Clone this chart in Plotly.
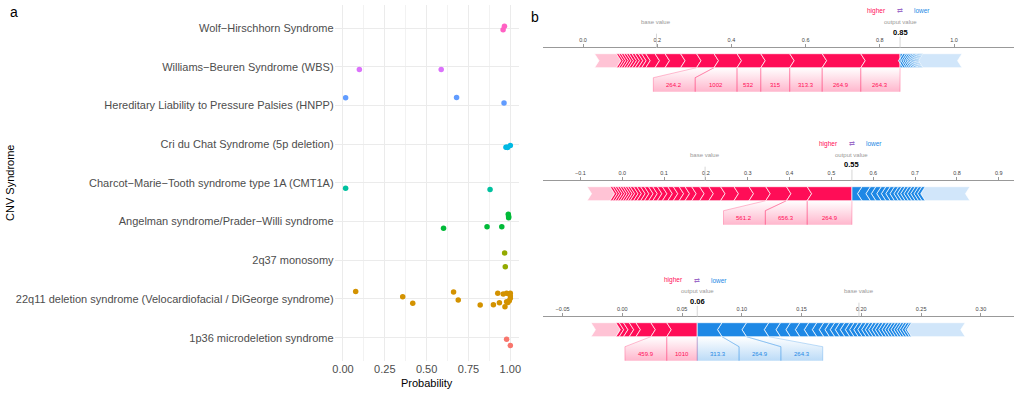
import plotly.graph_objects as go

W, H = 1023, 393
FONT = "Liberation Sans, Arial, sans-serif"

# ---------------- Panel a: data ----------------
SYNDROMES = [
    "1p36 microdeletion syndrome",
    "22q11 deletion syndrome (Velocardiofacial / DiGeorge syndrome)",
    "2q37 monosomy",
    "Angelman syndrome/Prader\u2212Willi syndrome",
    "Charcot\u2212Marie\u2212Tooth syndrome type 1A (CMT1A)",
    "Cri du Chat Syndrome (5p deletion)",
    "Hereditary Liability to Pressure Palsies (HNPP)",
    "Williams\u2212Beuren Syndrome (WBS)",
    "Wolf\u2212Hirschhorn Syndrome",
]
COLORS = ["#F8766D", "#D39200", "#93AA00", "#00BA38", "#00C19F",
          "#00B9E3", "#619CFF", "#DB72FB", "#FF61C3"]

PROB_1P36 = [0.978, 1.0]
JIT_1P36 = [-0.04, -0.20]
PROB_22Q11 = [0.076, 0.357, 0.417, 0.661, 0.689, 0.820, 0.899, 0.925, 0.935,
              0.958, 0.968, 0.978, 0.978, 0.985, 0.994, 0.994, 1.0, 1.0, 1.0]
JIT_22Q11 = [0.19, 0.06, -0.11, 0.18, -0.026, -0.155, -0.147, 0.147, -0.095,
             0.129, -0.20, 0.147, -0.07, -0.09, 0.129, -0.044, 0.078, 0.018, 0.15]
PROB_2Q37 = [0.966, 0.970]
JIT_2Q37 = [0.19, -0.165]
PROB_ANGELMAN = [0.988, 0.990, 0.990, 0.601, 0.861, 0.949]
JIT_ANGELMAN = [0.19, 0.13, 0.10, -0.17, -0.137, -0.137]
PROB_CMT1A = [0.016, 0.879]
JIT_CMT1A = [-0.14, -0.17]
PROB_CRI = [0.974, 0.980, 0.984, 1.0]
JIT_CRI = [-0.078, -0.08, -0.085, -0.034]
PROB_HNPP = [0.016, 0.679, 0.9625]
JIT_HNPP = [0.20, 0.207, 0.06]
PROB_WBS = [0.098, 0.587]
JIT_WBS = [-0.069, -0.069]
PROB_WOLF = [0.957, 0.965]
JIT_WOLF = [-0.043, 0.043]

PROBS = [PROB_1P36, PROB_22Q11, PROB_2Q37, PROB_ANGELMAN, PROB_CMT1A,
         PROB_CRI, PROB_HNPP, PROB_WBS, PROB_WOLF]
JITS = [JIT_1P36, JIT_22Q11, JIT_2Q37, JIT_ANGELMAN, JIT_CMT1A,
        JIT_CRI, JIT_HNPP, JIT_WBS, JIT_WOLF]
PROB_TICKS = [0, 0.25, 0.5, 0.75, 1.0]
PROB_TICKTEXT = ["0.00", "0.25", "0.50", "0.75", "1.00"]

# ---------------- Panel b: SHAP force data ----------------
BASE_VALUE = 0.198

P1_POS_LABELS = ["264.3", "264.9", "313.3", "315", "532", "1002", "264.2"]
P1_POS = [0.106, 0.104, 0.0875, 0.078, 0.064, 0.062, 0.047, 0.043, 0.042, 0.027,
          0.025, 0.011, 0.009, 0.009, 0.008, 0.008, 0.007, 0.007, 0.007, 0.0065, 0.0065]
P1_POS_REST = 0.059
P1_NEG_LABELS = []
P1_NEG = [0.008, 0.0067, 0.0054, 0.0054, 0.0048, 0.0043, 0.004, 0.0038, 0.0035,
          0.0032, 0.0032, 0.003, 0.003, 0.0027]
P1_NEG_REST = 0.106

P2_POS_LABELS = ["264.9", "656.3", "561.2"]
P2_POS = [0.107, 0.0495, 0.0495, 0.040, 0.036, 0.032, 0.028, 0.022, 0.019, 0.016,
          0.014, 0.014, 0.013, 0.013, 0.012, 0.011, 0.010, 0.010, 0.009, 0.009,
          0.008, 0.008, 0.006, 0.006, 0.006, 0.006, 0.006, 0.006, 0.006, 0.006]
P2_POS_REST = 0.055
P2_NEG_LABELS = []
P2_NEG = [0.024, 0.020, 0.013, 0.013, 0.011, 0.0105, 0.010, 0.0095, 0.008, 0.008,
          0.008, 0.008, 0.008, 0.008, 0.008, 0.008]
P2_NEG_REST = 0.107

P3_POS_LABELS = ["1010", "459.9"]
P3_POS = [0.0255, 0.0133, 0.0125, 0.0056, 0.0048, 0.0036, 0.0028]
P3_POS_REST = 0.0208
P3_NEG_LABELS = ["313.3", "264.9", "264.3"]
P3_NEG = [0.0207, 0.0205, 0.0186, 0.0098, 0.0083, 0.0079, 0.0075, 0.0067, 0.0058,
          0.0048, 0.0044, 0.0042, 0.0042, 0.0042, 0.0036, 0.0035, 0.0033, 0.0033,
          0.003, 0.0028, 0.0028, 0.0028, 0.0028, 0.0028, 0.0025, 0.0025, 0.0025,
          0.0025, 0.0023, 0.0023, 0.0023, 0.0023, 0.0017]
P3_NEG_REST = 0.045

# ---------------- style constants ----------------
RED, BLUE = "#FF0D57", "#1E88E5"
LIGHT_RED, LIGHT_BLUE = "#FFC3D5", "#D1E6FA"
A_DOM = [333.9 / W, 518.7 / W]
A_YDOM = [1 - 360.9 / H, 1 - 4.8 / H]
B_DOM = [543.3 / W, 1015.7 / W]
BAR_TOP, BAR_MID, BAR_BOT = 6, 13, 20
BOX_TOP, BOX_BOT, LABEL_Y = 30, 44, 37.5
ARROW_PX = 4.5
WIDE_BOX_PX = 42
CHAR_PX = 6

fig = go.Figure()

# ---------------- Panel a ----------------
for i, (probs, jits) in enumerate(zip(PROBS, JITS)):
    fig.add_trace(go.Scatter(
        x=probs, y=[i + j for j in jits], mode="markers",
        marker=dict(color=COLORS[i], size=5.5, line=dict(width=0)),
        xaxis="x", yaxis="y", showlegend=False, hoverinfo="skip"))

layout = dict(
    width=W, height=H, margin=dict(l=0, r=0, t=0, b=0),
    paper_bgcolor="white", plot_bgcolor="white", showlegend=False,
    font=dict(family=FONT, color="#000"),
    xaxis=dict(domain=A_DOM, range=[-0.05, 1.05], anchor="y",
               tickvals=PROB_TICKS, ticktext=PROB_TICKTEXT,
               tickfont=dict(size=11, color="#4D4D4D"),
               showgrid=True, gridcolor="#EBEBEB", gridwidth=1,
               zeroline=False, showline=False, ticks="",
               minor=dict(tickvals=[0.125, 0.375, 0.625, 0.875], showgrid=True,
                          gridcolor="#F2F2F2", gridwidth=0.6)),
    yaxis=dict(domain=A_YDOM, range=[-0.6, 8.6], anchor="x",
               tickvals=list(range(len(SYNDROMES))), ticktext=SYNDROMES,
               tickfont=dict(size=11, color="#4D4D4D"),
               showgrid=True, gridcolor="#EBEBEB", gridwidth=1,
               zeroline=False, showline=False, ticks=""),
)

shapes = []
annotations = [
    dict(text="a", x=12 / W, y=1 - 12 / H, xref="paper", yref="paper",
         showarrow=False, font=dict(size=14, color="#000"), xanchor="center", yanchor="middle"),
    dict(text="b", x=535 / W, y=1 - 17 / H, xref="paper", yref="paper",
         showarrow=False, font=dict(size=14, color="#000"), xanchor="center", yanchor="middle"),
    dict(text="Probability", x=(A_DOM[0] + A_DOM[1]) / 2, y=1 - 383 / H,
         xref="paper", yref="paper", showarrow=False, font=dict(size=11, color="#000"),
         xanchor="center", yanchor="middle"),
    dict(text="CNV Syndrome", x=8 / W, y=1 - 183 / H, xref="paper", yref="paper",
         showarrow=False, textangle=-90, font=dict(size=11, color="#000"),
         xanchor="center", yanchor="middle"),
]


def chevron_path(x0, x1, direction, h, flat_inner):
    if direction > 0:  # red, pointing right, inner side is right
        pts = [(x0, BAR_TOP), (x1, BAR_TOP)]
        pts += [(x1, BAR_BOT)] if flat_inner else [(x1 + h, BAR_MID), (x1, BAR_BOT)]
        pts += [(x0, BAR_BOT), (x0 + h, BAR_MID)]
    else:  # blue, pointing left, inner side is left
        pts = [(x0, BAR_TOP), (x1, BAR_TOP), (x1 - h, BAR_MID), (x1, BAR_BOT), (x0, BAR_BOT)]
        if not flat_inner:
            pts += [(x0 - h, BAR_MID)]
    return "M" + " L".join(f"{x:.6f},{y}" for x, y in pts) + " Z"


def force_panel(k, xrange, top_px, pos, pos_rest, pos_labels, neg, neg_rest, neg_labels,
                dtick, tfmt):
    xa, ya = f"x{k}", f"y{k}"
    ppu = (B_DOM[1] - B_DOM[0]) * W / (xrange[1] - xrange[0])
    h = ARROW_PX / ppu
    out = BASE_VALUE + sum(pos) + pos_rest - sum(neg) - neg_rest

    def py(ypx):
        return 1 - (top_px + ypx) / H

    layout[f"xaxis{k}"] = dict(
        domain=B_DOM, range=xrange, anchor=ya, side="top",
        showline=True, linecolor="#999", linewidth=1, ticks="outside", ticklen=3,
        tickcolor="#999", tickwidth=1, dtick=dtick, tick0=0, tickformat=tfmt,
        tickfont=dict(size=5.5, color="#444"), showgrid=False, zeroline=False)
    layout[f"yaxis{k}"] = dict(domain=[py(50), py(0)], range=[50, 0], anchor=xa,
                               visible=False, showgrid=False, zeroline=False)

    for sign, vals, rest, labels, col, light in (
            (1, pos, pos_rest, pos_labels, RED, LIGHT_RED),
            (-1, neg, neg_rest, neg_labels, BLUE, LIGHT_BLUE)):
        allv = list(vals) + [rest]
        edges = [out]
        for v in allv:
            edges.append(edges[-1] - sign * v)
        for i in reversed(range(len(allv))):
            a, b = edges[i], edges[i + 1]
            x0, x1 = min(a, b), max(a, b)
            fill = light if i == len(allv) - 1 else col
            shapes.append(dict(type="path", xref=xa, yref=ya,
                               path=chevron_path(x0, x1, sign, h, i == 0),
                               fillcolor=fill, line=dict(color="white", width=0.7),
                               layer="above"))
        edge = out
        rgb = "255,13,87" if sign > 0 else "30,136,229"
        for i, lab in enumerate(labels):
            a, b = edges[i], edges[i + 1]
            bx0, bx1 = min(a, b), max(a, b)
            bw = bx1 - bx0
            need = len(lab) * CHAR_PX / ppu
            w = bw if need <= bw else WIDE_BOX_PX / ppu
            if sign > 0:
                r = min(edge, bx1); l = r - w; edge = l
            else:
                l = max(edge, bx0); r = l + w; edge = r
            fig.add_trace(go.Scatter(
                x=[bx0, bx1, r, r, l, l, bx0],
                y=[BAR_BOT, BAR_BOT, BOX_TOP, BOX_BOT, BOX_BOT, BOX_TOP, BAR_BOT],
                xaxis=xa, yaxis=ya, mode="lines", fill="toself",
                line=dict(width=0), hoverinfo="skip", showlegend=False,
                fillgradient=dict(type="vertical",
                                  colorscale=[[0, f"rgba({rgb},0.30)"],
                                              [1, f"rgba({rgb},0.0)"]])))
            for xs in ([bx0, l, l], [bx1, r, r]):
                fig.add_trace(go.Scatter(
                    x=xs, y=[BAR_BOT, BOX_TOP, BOX_BOT], xaxis=xa, yaxis=ya,
                    mode="lines", line=dict(color=f"rgba({rgb},0.35)", width=0.8),
                    hoverinfo="skip", showlegend=False))
            annotations.append(dict(text=lab, x=(l + r) / 2, y=LABEL_Y, xref=xa, yref=ya,
                                    showarrow=False, font=dict(size=6, color=col),
                                    xanchor="center", yanchor="middle"))

    shapes.append(dict(type="line", xref=xa, yref="paper", x0=BASE_VALUE, x1=BASE_VALUE,
                       y0=py(-14), y1=py(0), line=dict(color="#cccccc", width=0.8)))
    shapes.append(dict(type="line", xref=xa, yref="paper", x0=out, x1=out,
                       y0=py(-11), y1=py(0), line=dict(color="#cccccc", width=0.8)))
    annotations.extend([
        dict(text="base value", x=BASE_VALUE, y=py(-26), xref=xa, yref="paper",
             showarrow=False, font=dict(size=6, color="#999"), xanchor="center", yanchor="middle"),
        dict(text="output value", x=out, y=py(-26), xref=xa, yref="paper",
             showarrow=False, font=dict(size=6, color="#999"), xanchor="center", yanchor="middle"),
        dict(text=f"<b>{out:.2f}</b>", x=out, y=py(-15.7), xref=xa, yref="paper",
             showarrow=False, font=dict(size=7.5, color="#000"), xanchor="center", yanchor="middle"),
        dict(text="higher", x=out, xshift=-12, y=py(-36.7), xref=xa, yref="paper",
             showarrow=False, font=dict(size=6.5, color=RED), xanchor="right", yanchor="middle"),
        dict(text="lower", x=out, xshift=12, y=py(-36.7), xref=xa, yref="paper",
             showarrow=False, font=dict(size=6.5, color=BLUE), xanchor="left", yanchor="middle"),
        dict(text="\u21c4", x=out, y=py(-36.7), xref=xa, yref="paper",
             showarrow=False, font=dict(size=7, color="#9C6BC8"), xanchor="center", yanchor="middle"),
    ])


force_panel(2, [-0.1074, 1.1608], 47.7, P1_POS, P1_POS_REST, P1_POS_LABELS,
            P1_NEG, P1_NEG_REST, P1_NEG_LABELS, 0.2, ".1f")
force_panel(3, [-0.189, 0.9357], 180.7, P2_POS, P2_POS_REST, P2_POS_LABELS,
            P2_NEG, P2_NEG_REST, P2_NEG_LABELS, 0.1, ".1f")
force_panel(4, [-0.0662, 0.3275], 316.7, P3_POS, P3_POS_REST, P3_POS_LABELS,
            P3_NEG, P3_NEG_REST, P3_NEG_LABELS, 0.05, ".2f")

layout["shapes"] = shapes
layout["annotations"] = annotations
fig.update_layout(**layout)
fig.write_html("out.html", config={"displayModeBar": False},
               post_script="document.body.style.margin='0';")
